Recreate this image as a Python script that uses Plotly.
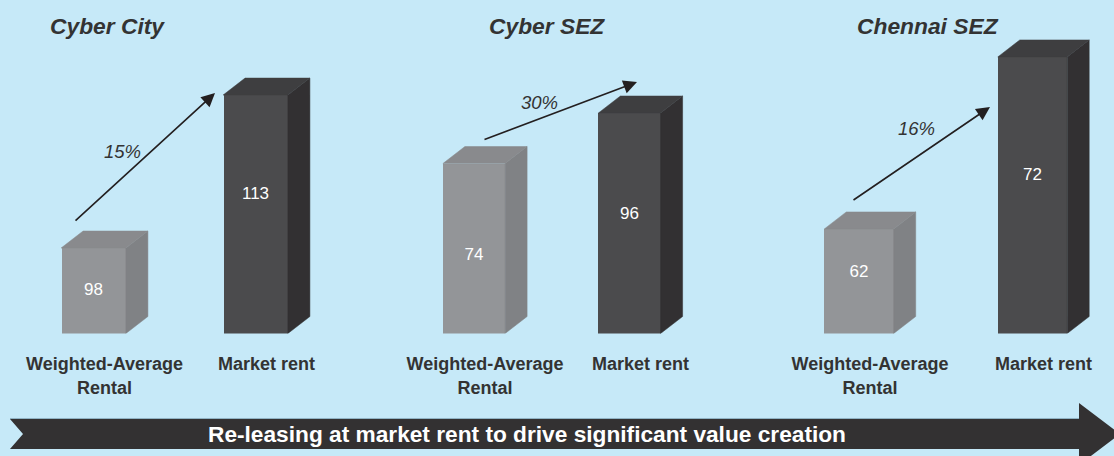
import plotly.graph_objects as go

# ---------------- data ----------------
groups = ["Cyber City", "Cyber SEZ", "Chennai SEZ"]
categories = ["Weighted-Average<br>Rental", "Market rent"]
weighted_avg_rental = [98, 74, 62]
market_rent = [113, 96, 72]
banner_text = "Re-leasing at market rent to drive significant value creation"

# ---------------- styles / layout ----------------
W, H = 1114, 456
BG = "#C6E9F8"
DARK = "#333333"
FONT = "Arial, 'Liberation Sans', sans-serif"
FRONT = ["#939598", "#4b4b4d"]
SIDE = ["#808285", "#323032"]
TOP = ["#898a8d", "#3e3e40"]
BANNER = "#333132"

cat_px = [(104.5, 266.5), (485, 640.5), (870, 1043.5)]      # category centres (px)
y_ranges = [(89.62, 122.32), (0, 145.2), (55.92, 75.31)]    # illustrative (not-to-scale) axis ranges
label_frac = [(0.50, 0.58), (0.46, 0.54), (0.58, 0.57)]
title_px = [(108, 26), (547, 26), (928, 26)]
pct_px = [(122, 151), (539, 102), (916, 128)]
arrow_px = [((74, 222), (215, 93)), ((483, 140), (637, 82)), ((852, 201), (990, 107))]

BASE_PX = 333.5
XR = (-0.45, 1.40)
FRONT_W = 0.40
DEPTH_PX = (22, 17)


def px(x, y):
    return x / W, 1 - y / H


fig = go.Figure()
layout_axes = {}

for g in range(3):
    sfx = "" if g == 0 else str(g + 1)
    xa, ya = "x" + sfx, "y" + sfx
    c0, c1 = cat_px[g]
    sp = c1 - c0
    r0, r1 = y_ranges[g]
    ppu = BASE_PX / (r1 - r0)
    dxu = DEPTH_PX[0] / sp
    dyu = DEPTH_PX[1] / ppu
    vals = [weighted_avg_rental[g], market_rent[g]]
    off = -(FRONT_W + dxu) / 2

    fig.add_trace(go.Bar(
        x=[0, 1], y=vals, width=FRONT_W, offset=off,
        marker=dict(color=FRONT, line=dict(width=0)),
        xaxis=xa, yaxis=ya, hoverinfo="skip", showlegend=False))

    for i, v in enumerate(vals):
        xl = i + off
        xr = xl + FRONT_W
        fig.add_trace(go.Scatter(
            x=[xr, xr + dxu, xr + dxu, xr, xr], y=[r0, r0 + dyu, v + dyu, v, r0],
            fill="toself", mode="lines", fillcolor=SIDE[i],
            line=dict(color=SIDE[i], width=0.5),
            xaxis=xa, yaxis=ya, hoverinfo="skip", showlegend=False))
        fig.add_trace(go.Scatter(
            x=[xl, xl + dxu, xr + dxu, xr, xl], y=[v, v + dyu, v + dyu, v, v],
            fill="toself", mode="lines", fillcolor=TOP[i],
            line=dict(color=TOP[i], width=0.5),
            xaxis=xa, yaxis=ya, hoverinfo="skip", showlegend=False))
        fig.add_trace(go.Scatter(
            x=[xl + FRONT_W / 2], y=[r0 + label_frac[g][i] * (v - r0)],
            mode="text", text=[str(v)],
            textfont=dict(color="white", size=17, family=FONT),
            xaxis=xa, yaxis=ya, hoverinfo="skip", showlegend=False))

    left = c0 + XR[0] * sp
    right = c0 + XR[1] * sp
    layout_axes["xaxis" + sfx] = dict(
        domain=[left / W, right / W], range=list(XR), anchor=ya,
        tickmode="array", tickvals=[0, 1], ticktext=categories,
        tickfont=dict(size=18, color=DARK, family=FONT, weight="bold"),
        ticks="outside", ticklen=14, tickcolor="rgba(0,0,0,0)",
        showgrid=False, zeroline=False, showline=False, fixedrange=True,
        automargin=False)
    layout_axes["yaxis" + sfx] = dict(
        domain=[(H - BASE_PX) / H, 1], range=[r0, r1], anchor=xa,
        visible=False, fixedrange=True, automargin=False)

annotations = []
for g in range(3):
    tx, ty = px(*title_px[g])
    annotations.append(dict(
        x=tx, y=ty, xref="paper", yref="paper", showarrow=False,
        xanchor="center", yanchor="middle",
        text="<b><i>%s</i></b>" % groups[g],
        font=dict(size=22.8, color=DARK, family=FONT)))
    pct = round((market_rent[g] / weighted_avg_rental[g] - 1) * 100)
    pxx, pyy = px(*pct_px[g])
    annotations.append(dict(
        x=pxx, y=pyy, xref="paper", yref="paper", showarrow=False,
        xanchor="center", yanchor="middle",
        text="<i>%d%%</i>" % pct,
        font=dict(size=18.5, color=DARK, family=FONT)))
    (t0x, t0y), (h0x, h0y) = arrow_px[g]
    hx, hy = px(h0x, h0y)
    annotations.append(dict(
        x=hx, y=hy, xref="paper", yref="paper", showarrow=True,
        ax=t0x - h0x, ay=t0y - h0y, axref="pixel", ayref="pixel",
        text="", arrowhead=2, arrowsize=1.7, arrowwidth=1.6,
        arrowcolor="#231f20"))

bx, by = px(527, 434)
annotations.append(dict(
    x=bx, y=by, xref="paper", yref="paper", showarrow=False,
    xanchor="center", yanchor="middle",
    text="<b>%s</b>" % banner_text,
    font=dict(size=22.7, color="white", family=FONT)))

# notched banner arrow
pts = [(10, 419), (1079, 419), (1079, 403), (1120, 434), (1079, 465),
       (1079, 449), (10, 449), (23, 434)]
path = "M " + " L ".join("%.5f,%.5f" % px(x, y) for x, y in pts) + " Z"
edge = "M %.5f,%.5f L %.5f,%.5f" % (*px(10, 418.5), *px(1079, 418.5))

fig.update_layout(
    width=W, height=H, autosize=False,
    margin=dict(l=0, r=0, t=0, b=0, pad=0, autoexpand=False),
    paper_bgcolor=BG, plot_bgcolor="rgba(0,0,0,0)",
    showlegend=False, bargap=0,
    annotations=annotations,
    shapes=[dict(type="path", path=path, xref="paper", yref="paper",
                 fillcolor=BANNER, line=dict(width=0), layer="below"),
            dict(type="path", path=edge, xref="paper", yref="paper",
                 line=dict(color="#8fb3c4", width=1), layer="below")],
    **layout_axes)

post = (
    "document.documentElement.style.margin='0';"
    "document.documentElement.style.overflow='hidden';"
    "document.body.style.margin='0';document.body.style.padding='0';"
    "document.body.style.overflow='hidden';"
    "document.body.style.background='" + BG + "';"
    "var gd=document.getElementById('{plot_id}');"
    "gd.style.position='absolute';gd.style.left='0px';gd.style.top='0px';"
    "Plotly.relayout(gd,{width:%d,height:%d});" % (W, H)
)

fig.write_html("out.html", config={"displayModeBar": False, "responsive": False},
               post_script=post)
